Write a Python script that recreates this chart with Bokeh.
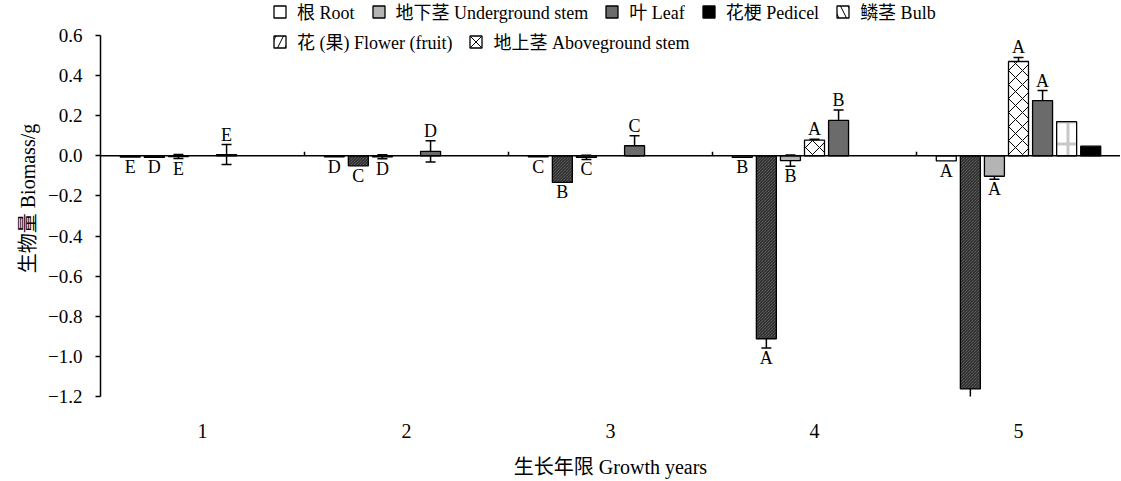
from bokeh.plotting import figure
from bokeh.models import (ColumnDataSource, Range1d, FixedTicker, CustomJSTickFormatter,
                          Legend, LegendItem, Span, Whisker, TeeHead)
from bokeh.core.properties import value
from bokeh.embed import file_html
from bokeh.resources import INLINE

# ---------------- data ----------------
years = ["1", "2", "3", "4", "5"]

# bar order inside each year group (as drawn in the reference)
series_keys = ["root", "bulb", "underground", "aboveground", "leaf", "flower", "pedicel"]
series_labels = {
    "root": "根 Root",
    "underground": "地下茎 Underground stem",
    "leaf": "叶 Leaf",
    "pedicel": "花梗 Pedicel",
    "bulb": "鳞茎 Bulb",
    "flower": "花 (果) Flower (fruit)",
    "aboveground": "地上茎 Aboveground stem",
}
legend_row1 = ["root", "underground", "leaf", "pedicel", "bulb"]
legend_row2 = ["flower", "aboveground"]

root = [-0.006, -0.005, -0.005, -0.008, -0.025]
bulb = [-0.008, -0.050, -0.133, -0.912, -1.162]
underground = [-0.004, -0.005, -0.008, -0.024, -0.102]
aboveground = [0.0, 0.0, 0.0, 0.078, 0.470]
leaf = [0.006, 0.022, 0.050, 0.176, 0.275]
flower = [0.0, 0.0, 0.0, 0.0, 0.170]
pedicel = [0.0, 0.0, 0.0, 0.0, 0.048]

root_err = [0.0, 0.0, 0.0, 0.0, 0.0]
bulb_err = [0.0, 0.0, 0.0, 0.046, 0.050]
underground_err = [0.010, 0.010, 0.010, 0.028, 0.015]
aboveground_err = [0.0, 0.0, 0.0, 0.004, 0.020]
leaf_err = [0.050, 0.053, 0.050, 0.052, 0.050]
flower_err = [0.0, 0.0, 0.0, 0.0, 0.0]
pedicel_err = [0.0, 0.0, 0.0, 0.0, 0.0]

root_sig = ["E", "D", "C", "B", "A"]
bulb_sig = ["D", "C", "B", "A", "A"]
underground_sig = ["E", "D", "C", "B", "A"]
aboveground_sig = ["", "", "", "A", "A"]
leaf_sig = ["E", "D", "C", "B", "A"]
flower_sig = ["", "", "", "", ""]
pedicel_sig = ["", "", "", "", ""]

y_ticks = [-1.2, -1.0, -0.8, -0.6, -0.4, -0.2, 0.0, 0.2, 0.4, 0.6]

values = {"root": root, "bulb": bulb, "underground": underground, "aboveground": aboveground,
          "leaf": leaf, "flower": flower, "pedicel": pedicel}
errors = {"root": root_err, "bulb": bulb_err, "underground": underground_err,
          "aboveground": aboveground_err, "leaf": leaf_err, "flower": flower_err,
          "pedicel": pedicel_err}
sigs = {"root": root_sig, "bulb": bulb_sig, "underground": underground_sig,
        "aboveground": aboveground_sig, "leaf": leaf_sig, "flower": flower_sig,
        "pedicel": pedicel_sig}

styles = {
    "root": dict(fill_color="white"),
    "underground": dict(fill_color="#b4b4b4"),
    "leaf": dict(fill_color="#6b6b6b"),
    "pedicel": dict(fill_color="black"),
    "bulb": dict(fill_color="#7a7a7a", hatch_pattern="\\", hatch_color="#1a1a1a",
                 hatch_scale=3, hatch_weight=1),
    "aboveground": dict(fill_color="white", hatch_pattern="x", hatch_color="black",
                        hatch_scale=14, hatch_weight=1),
    "flower": dict(fill_color="white", hatch_pattern="+", hatch_color="#c8c8c8",
                   hatch_scale=22, hatch_weight=3),
}
legend_styles = {
    "bulb": dict(fill_color="white", hatch_pattern="\\", hatch_color="black",
                 hatch_scale=15, hatch_weight=1),
    "flower": dict(fill_color="white", hatch_pattern="/", hatch_color="black",
                   hatch_scale=15, hatch_weight=1),
    "aboveground": dict(fill_color="white", hatch_pattern="x", hatch_color="black",
                        hatch_scale=15, hatch_weight=1),
}

FONT = "Liberation Serif, Noto Sans CJK SC"

# ---------------- layout ----------------
W, H = 1120, 480
frame_left, frame_bottom_px = 100, 397     # pixel positions of the frame
axis_top_px = 35                            # pixel where 0.6 sits
px_per_unit = (frame_bottom_px - axis_top_px) / (y_ticks[-1] - y_ticks[0])
y_top = y_ticks[-1] + axis_top_px / px_per_unit   # frame extends up to the page top

n_groups = len(years)
centers = [i + 0.5 for i in range(n_groups)]
step = 0.118
bar_w = 0.098
mid = (len(series_keys) - 1) / 2

p = figure(width=W, height=H,
           x_range=Range1d(0, n_groups), y_range=Range1d(y_ticks[0], y_top),
           output_backend="svg", toolbar_location=None,
           min_border_left=frame_left, min_border_right=0, min_border_top=0,
           min_border_bottom=H - frame_bottom_px,
           outline_line_color=None)
p.grid.visible = False
p.background_fill_color = "white"
p.border_fill_color = "white"

renderers = {}
above_x, above_y, above_t = [], [], []
below_x, below_y, below_t = [], [], []
wx, wu, wl = [], [], []
for j, key in enumerate(series_keys):
    xs, tops = [], []
    for g in range(n_groups):
        x = centers[g] + (j - mid) * step
        v = values[key][g]
        e = errors[key][g]
        if v != 0:
            xs.append(x)
            tops.append(v)
        if e > 0:
            wx.append(x)
            wu.append(v + e)
            wl.append(v - e)
        s = sigs[key][g]
        if s:
            if v >= 0:
                above_x.append(x); above_y.append(v + e); above_t.append(s)
            else:
                below_x.append(x); below_y.append(v - e); below_t.append(s)
    src = ColumnDataSource(dict(x=xs, top=tops))
    r = p.vbar(x="x", top="top", bottom=0, width=bar_w, source=src,
               line_color="black", line_width=1.3, **styles[key])
    renderers[key] = r

# legend-only renderers for patterned items (no drawable data: NaN height)
legend_renderers = dict(renderers)
for key, st in legend_styles.items():
    legend_renderers[key] = p.vbar(x=[centers[0]], top=[float("nan")], bottom=0, width=bar_w,
                                   line_color="black", line_width=1.3, **st)

# zero line and category boundary ticks
p.add_layout(Span(location=0, dimension="width", line_color="black", line_width=1.5))
bounds = [float(i) for i in range(1, n_groups)]
p.segment(x0=bounds, x1=bounds, y0=[0] * len(bounds), y1=[0.02] * len(bounds),
          line_color="black", line_width=1.5)

# error bars
wsrc = ColumnDataSource(dict(x=wx, upper=wu, lower=wl))
p.add_layout(Whisker(base="x", upper="upper", lower="lower", source=wsrc,
                     line_color="black", line_width=1.5,
                     upper_head=TeeHead(size=10, line_color="black", line_width=1.5),
                     lower_head=TeeHead(size=10, line_color="black", line_width=1.5)))

# significance letters
p.text(x=above_x, y=above_y, text=above_t, text_font=value(FONT), text_font_size="18px",
       text_align="center", text_baseline="alphabetic", y_offset=-10, text_color="black")
p.text(x=below_x, y=below_y, text=below_t, text_font=value(FONT), text_font_size="18px",
       text_align="center", text_baseline="top", y_offset=0, text_color="black")

# axes
xa = p.xaxis[0]
xa.ticker = FixedTicker(ticks=centers)
xa.major_label_overrides = {c: y for c, y in zip(centers, years)}
xa.axis_line_color = None
xa.major_tick_line_color = None
xa.minor_tick_line_color = None
xa.major_tick_out = 0
xa.major_tick_in = 0
xa.major_label_standoff = 27
xa.major_label_text_font = FONT
xa.major_label_text_font_size = "20px"
xa.major_label_text_color = "black"
xa.axis_label = "生长年限 Growth years"
xa.axis_label_text_font = FONT
xa.axis_label_text_font_size = "20px"
xa.axis_label_text_font_style = "normal"
xa.axis_label_text_color = "black"
xa.axis_label_standoff = 15

ya = p.yaxis[0]
ya.ticker = FixedTicker(ticks=y_ticks)
ya.bounds = (y_ticks[0], y_ticks[-1])
ya.formatter = CustomJSTickFormatter(code="""
    if (Math.abs(tick) < 1e-9) { return "0.0"; }
    return (tick < 0 ? "\\u2212" : "") + Math.abs(tick).toFixed(1);
""")
ya.axis_line_color = "black"
ya.axis_line_width = 1.5
ya.major_tick_line_color = "black"
ya.major_tick_line_width = 1.5
ya.major_tick_out = 5
ya.major_tick_in = 0
ya.minor_tick_line_color = None
ya.major_label_standoff = 13
ya.major_label_text_font = FONT
ya.major_label_text_font_size = "19px"
ya.major_label_text_color = "black"
ya.axis_label = "生物量 Biomass/g"
ya.axis_label_text_font = FONT
ya.axis_label_text_font_size = "20px"
ya.axis_label_text_font_style = "normal"
ya.axis_label_text_color = "black"
ya.axis_label_standoff = 6


def make_legend(keys, loc):
    leg = Legend(items=[LegendItem(label=series_labels[k], renderers=[legend_renderers[k]])
                        for k in keys],
                 location=loc, orientation="horizontal")
    leg.border_line_color = None
    leg.background_fill_alpha = 0
    leg.padding = 0
    leg.margin = 0
    leg.spacing = 16
    leg.label_standoff = 10
    leg.glyph_width = 15
    leg.glyph_height = 15
    leg.label_height = 15
    leg.label_text_font = FONT
    leg.label_text_font_size = "18px"
    leg.label_text_color = "black"
    return leg


fh = frame_bottom_px  # frame height in px (frame starts at the top)
p.add_layout(make_legend(legend_row1, (172, fh - 25)))
p.add_layout(make_legend(legend_row2, (172, fh - 55)))

open("out.html", "w").write(file_html(p, INLINE))
